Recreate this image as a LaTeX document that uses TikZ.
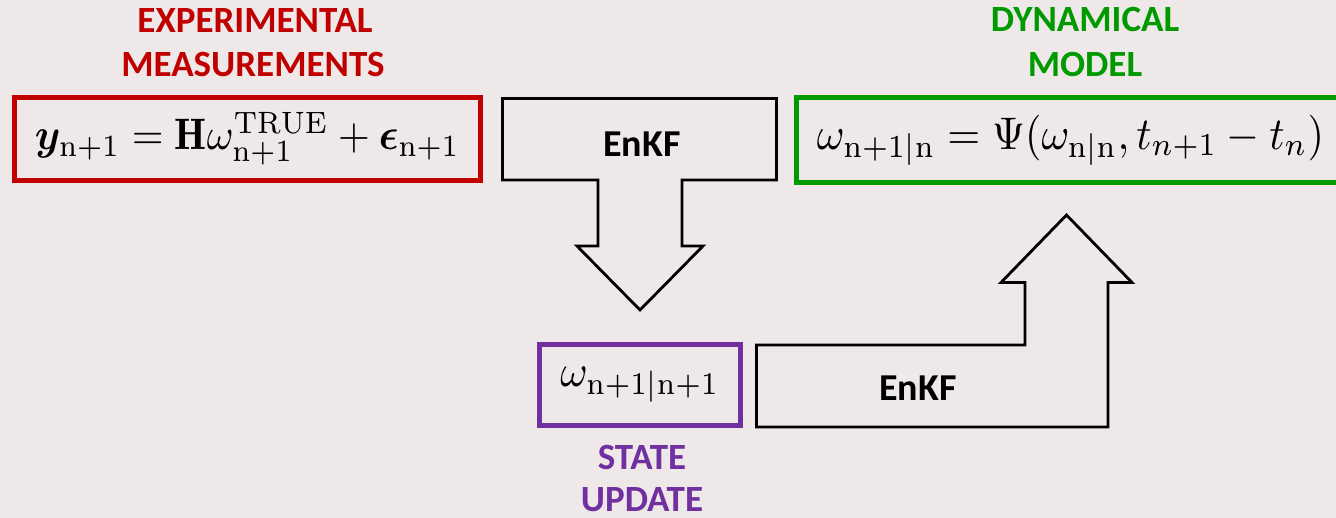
\documentclass[tikz,border=0pt]{standalone}
\usepackage{fontspec}
\usepackage{amsmath}
\usepackage{bm}
\newfontfamily\titlefont{Carlito}
\definecolor{bgc}{RGB}{238,232,232}
\definecolor{redc}{RGB}{192,0,0}
\definecolor{greenc}{RGB}{0,153,0}
\definecolor{purplec}{RGB}{112,48,160}
\begin{document}
\begin{tikzpicture}[x=1pt,y=-1pt,
  title/.style={font=\titlefont\bfseries\fontsize{37}{44}\selectfont, anchor=base, inner sep=0pt},
  eqbox/.style={draw, line width=5pt, inner sep=0pt, line join=miter},
  blockarrow/.style={draw=black, line width=2.8pt, line join=miter},
  arrowlabel/.style={font=\titlefont\bfseries\fontsize{38}{44}\selectfont, inner sep=0pt}]
\fill[bgc] (0,0) rectangle (1336,518);
\useasboundingbox (0,0) rectangle (1336,518);
\clip (0,0) rectangle (1336,518);

% titles
\node[title, text=redc] (t1a) at (255,33) {EXPERIMENTAL};
\node[title, text=redc] (t1b) at (253,77) {MEASUREMENTS};
\node[title, text=greenc] (t2a) at (1085,32) {DYNAMICAL};
\node[title, text=greenc] (t2b) at (1085,77) {MODEL};
\node[title, text=purplec] (t3a) at (642,469) {STATE};
\node[title, text=purplec] (t3b) at (642,511) {UPDATE};

% equation boxes
\node[eqbox, draw=redc, minimum width=466pt, minimum height=83pt] (meas) at (247.5,139)
  {\scalebox{1}[1.08]{\resizebox{425pt}{!}{$\bm{y}_{\mathrm{n+1}} = \mathbf{H}\omega^{\mathrm{TRUE}}_{\mathrm{n+1}} + \bm{\epsilon}_{\mathrm{n+1}}$}}};
\node[eqbox, draw=greenc, minimum width=549pt, minimum height=85pt] (model) at (1070.5,140)
  {\scalebox{1}[1.08]{\resizebox{507pt}{!}{$\omega_{\mathrm{n+1|n}} = \Psi(\omega_{\mathrm{n|n}}, t_{n+1} - t_n)$}}};
\node[eqbox, draw=purplec, minimum width=201pt, minimum height=81pt] (state) at (640,385)
  {\scalebox{1}[1.08]{\resizebox{159pt}{!}{$\omega_{\mathrm{n+1|n+1}}$}}};

% down block arrow (EnKF)
\draw[blockarrow] (502.5,98.5) -- (776.5,98.5) -- (776.5,180) -- (682,180) -- (682,246)
  -- (703,246) -- (640,310) -- (577,246) -- (598,246) -- (598,180) -- (502.5,180) -- cycle;
\node[arrowlabel] (enkf1) at (642,144) {EnKF};

% bent-up block arrow (EnKF)
\draw[blockarrow] (756.5,345) -- (1025,345) -- (1025,282.5) -- (1001,282.5) -- (1066.5,215)
  -- (1132,282.5) -- (1108,282.5) -- (1108,427) -- (756.5,427) -- cycle;
\node[arrowlabel] (enkf2) at (918,388.5) {EnKF};
\end{tikzpicture}
\end{document}
